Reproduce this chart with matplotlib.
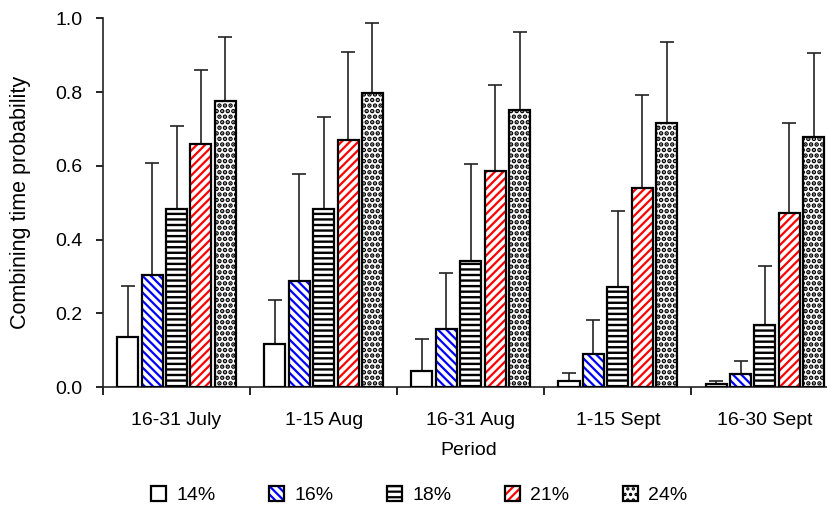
import matplotlib
matplotlib.use("Agg")
import matplotlib.pyplot as plt
import numpy as np
from matplotlib.patches import Patch
from matplotlib.legend_handler import HandlerTuple

plt.rcParams['font.family'] = ['Liberation Sans', 'DejaVu Sans']
plt.rcParams['hatch.linewidth'] = 1.6

periods = ['16-31 July', '1-15 Aug', '16-31 Aug', '1-15 Sept', '16-30 Sept']
series = ['14%', '16%', '18%', '21%', '24%']

v14 = [0.135, 0.117, 0.043, 0.016, 0.007]
v16 = [0.305, 0.287, 0.158, 0.089, 0.034]
v18 = [0.484, 0.484, 0.343, 0.270, 0.168]
v21 = [0.659, 0.669, 0.586, 0.540, 0.471]
v24 = [0.775, 0.798, 0.752, 0.715, 0.678]

top14 = [0.274, 0.236, 0.130, 0.039, 0.016]
top16 = [0.608, 0.577, 0.310, 0.181, 0.071]
top18 = [0.709, 0.733, 0.605, 0.476, 0.329]
top21 = [0.861, 0.908, 0.820, 0.793, 0.715]
top24 = [0.949, 0.986, 0.963, 0.936, 0.905]

values = [v14, v16, v18, v21, v24]
tops = [top14, top16, top18, top21, top24]
hatches = ['', '\\\\\\\\', '---', '////', '...']
hcolors = ['black', '#0000FF', 'black', '#FF0000', 'black']
hwidths = [1.6, 1.6, 1.7, 1.6, 2.3]


def set_hlw(patch, lw):
    if hasattr(patch, 'set_hatch_linewidth'):
        patch.set_hatch_linewidth(lw)


fig = plt.figure(figsize=(8.28, 5.05), dpi=100)
ax = fig.add_axes([103/828, 1 - 387/505, 1 - 103/828, (387 - 18.3)/505])

x = np.arange(len(periods))
width = 0.143
step = 0.166
handles = []
for i, (vals, tp, h, hc, hw) in enumerate(zip(values, tops, hatches, hcolors, hwidths)):
    pos = x + (i - 2) * step
    vals = np.array(vals)
    err = np.array(tp) - vals
    bars = ax.bar(pos, vals, width, color='white', edgecolor=hc, hatch=h, linewidth=0, zorder=2)
    for b in bars:
        set_hlw(b, hw)
    ax.bar(pos, vals, width, fill=False, edgecolor='black', linewidth=1.6, zorder=3)
    ax.errorbar(pos, vals, yerr=[np.zeros_like(vals), err], fmt='none', ecolor='#222222',
                elinewidth=1.2, capsize=5, capthick=1.2, zorder=1)
    hp = Patch(facecolor='white', edgecolor=hc, hatch=h, linewidth=0)
    set_hlw(hp, hw)
    handles.append((hp, Patch(facecolor='none', edgecolor='black', linewidth=1.6)))

ax.set_xlim(-0.5, -0.5 + (828 - 103) / 147.1)
ax.set_ylim(0, 1.0)
ax.set_yticks([0, 0.2, 0.4, 0.6, 0.8, 1.0])
ax.set_yticklabels(['0.0', '0.2', '0.4', '0.6', '0.8', '1.0'])
ax.set_xticks(x)
ax.set_xticklabels(periods)
ax.set_xticks(np.arange(-0.5, 4.0, 1.0), minor=True)
ax.tick_params(axis='x', which='major', length=0, pad=18, labelsize=14)
ax.tick_params(axis='x', which='minor', length=6, width=1.2, direction='out')
ax.tick_params(axis='y', length=5, width=1.2, direction='out', pad=10, labelsize=14)

for s in ['top', 'right']:
    ax.spines[s].set_visible(False)
for s in ['left', 'bottom']:
    ax.spines[s].set_linewidth(1.2)
    ax.spines[s].set_color('#222222')

ax.set_ylabel('Combining time probability', fontsize=15.5)
ax.yaxis.set_label_coords(-0.099, 0.5)
ax.set_xlabel('Period', fontsize=14)
ax.xaxis.set_label_coords(0.504, -0.149)

fig.legend(handles, series, loc='center', bbox_to_anchor=(419/828, 1 - 495/505),
           ncol=5, frameon=False, fontsize=14, handlelength=0.8, handleheight=0.8,
           handletextpad=0.5, columnspacing=2.75, borderpad=0,
           handler_map={tuple: HandlerTuple(ndivide=1, pad=0)})

fig.savefig('out.png', dpi=100, facecolor='white')
